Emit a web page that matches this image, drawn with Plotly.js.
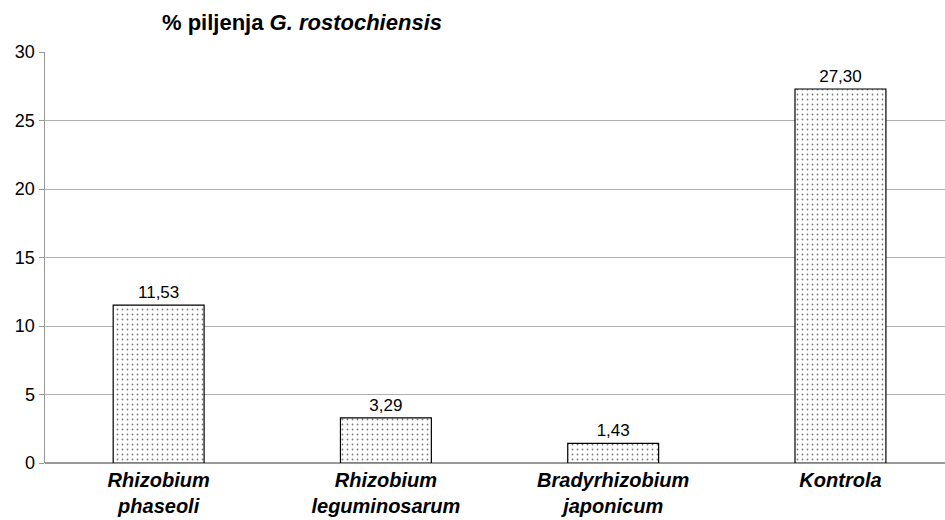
<!DOCTYPE html>
<html>
<head>
<meta charset="utf-8">
<script src="https://cdn.plot.ly/plotly-3.0.1.min.js"></script>
<style>html,body{margin:0;padding:0;overflow:hidden;background:#fff;}</style>
</head>
<body>
<div id="chart" style="width:945px;height:520px;"></div>
<script>
const categories = ["Rhizobium<br>phaseoli", "Rhizobium<br>leguminosarum", "Bradyrhizobium<br>japonicum", "Kontrola"];
const values = [11.53, 3.29, 1.43, 27.30];
const valueLabels = ["11,53", "3,29", "1,43", "27,30"];
const yTicks = [0, 5, 10, 15, 20, 25, 30];

const trace = {
  type: 'bar',
  x: categories,
  y: values,
  text: valueLabels,
  textposition: 'outside',
  texttemplate: '%{text}',
  cliponaxis: false,
  textfont: {family: 'Liberation Sans, Arial, sans-serif', size: 17, color: '#000'},
  marker: {
    color: '#ffffff',
    line: {color: '#000', width: 1.2},
    pattern: {shape: '.', fgcolor: '#7a7a7a', bgcolor: '#ffffff', size: 5, solidity: 0.1}
  },
  hoverinfo: 'none'
};

const layout = {
  width: 945, height: 520,
  margin: {l: 45, r: 0, t: 52, b: 57},
  paper_bgcolor: '#fff', plot_bgcolor: '#fff',
  showlegend: false,
  bargap: 0.6,
  font: {family: 'Liberation Sans, Arial, sans-serif', color: '#000'},
  title: {
    text: '<b>% piljenja <i>G. rostochiensis</i></b>',
    font: {size: 22, color: '#000'},
    x: (302 - 45) / 900, xref: 'paper', xanchor: 'center',
    y: 1 - 22 / 520, yref: 'container', yanchor: 'middle'
  },
  xaxis: {
    type: 'category',
    range: [-0.5, 3.46],
    showgrid: false,
    showline: false,
    ticks: '',
    ticklabelstandoff: 3,
    tickfont: {size: 20, weight: 'bold', style: 'italic', color: '#000'},
    automargin: false
  },
  yaxis: {
    range: [0, 30],
    tickvals: yTicks,
    ticktext: yTicks.map(String),
    showgrid: true,
    gridcolor: '#b0b0b0',
    gridwidth: 1,
    showline: true,
    linecolor: '#999999',
    linewidth: 1.5,
    ticks: 'outside',
    ticklen: 5,
    tickcolor: '#999999',
    tickfont: {size: 18, color: '#000'},
    zeroline: true,
    zerolinecolor: '#999999',
    zerolinewidth: 1.5,
    automargin: false
  }
};

Plotly.newPlot('chart', [trace], layout, {staticPlot: true, displayModeBar: false});
</script>
</body>
</html>
